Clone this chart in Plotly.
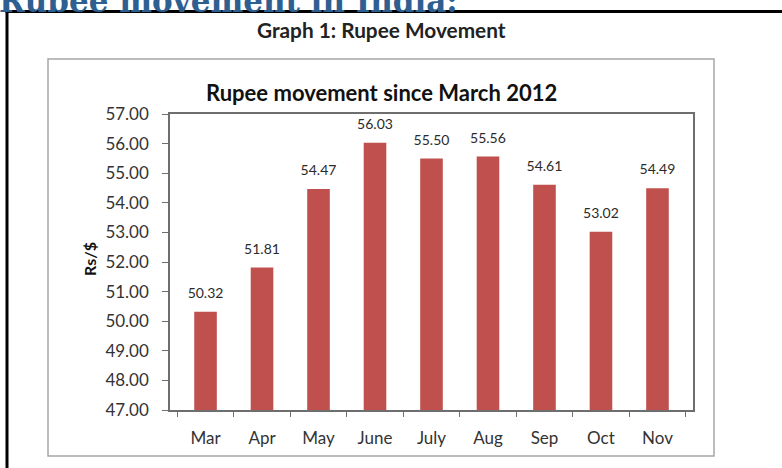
import plotly.graph_objects as go

months = ["Mar", "Apr", "May", "June", "July", "Aug", "Sep", "Oct", "Nov"]
rates = [50.32, 51.81, 54.47, 56.03, 55.50, 55.56, 54.61, 53.02, 54.49]
y_ticks = [47, 48, 49, 50, 51, 52, 53, 54, 55, 56, 57]

W, H = 782, 468
L, R, T, B = 170, 693, 114, 410
FONT = "Lato, Open Sans, sans-serif"

def px(x):
    return (x - L) / (R - L)

def py(y):
    return (B - y) / (B - T)

fig = go.Figure()
fig.add_trace(go.Bar(
    x=months, y=rates,
    marker=dict(color="#C0504D", line=dict(width=0)),
    hoverinfo="x+y",
))
fig.add_trace(go.Scatter(
    x=months, y=rates, mode="markers+text",
    marker=dict(size=15, opacity=0),
    text=[f"{v:.2f}" for v in rates],
    textposition="top center",
    textfont=dict(family=FONT, size=14, color="#2B2B2B"),
    cliponaxis=False, hoverinfo="skip",
))

fig.update_layout(
    width=W, height=H,
    margin=dict(l=L, r=W - R, t=T, b=H - B),
    paper_bgcolor="white", plot_bgcolor="white",
    bargap=0.6,
    showlegend=False,
    font=dict(family=FONT, color="#222222"),
    shapes=[
        dict(type="rect", xref="paper", yref="paper",
             x0=px(48), x1=px(714), y0=py(456), y1=py(59),
             line=dict(color="#A6A6A6", width=1.5), layer="below"),
        dict(type="line", xref="paper", yref="paper",
             x0=px(7), x1=px(7), y0=py(11), y1=py(470),
             line=dict(color="black", width=3)),
        dict(type="line", xref="paper", yref="paper",
             x0=px(5.5), x1=px(785), y0=py(11.5), y1=py(11.5),
             line=dict(color="black", width=3)),
    ],
    annotations=[
        dict(text="<b>Rubee movement in India:</b>", xref="paper", yref="paper",
             x=px(-3), y=py(21), xanchor="left", yanchor="bottom", showarrow=False,
             font=dict(family="DejaVu Serif, serif", size=31, color="#2E5F91")),
        dict(text="<b>Graph 1: Rupee Movement</b>", xref="paper", yref="paper",
             x=px(381), y=py(29), xanchor="center", yanchor="middle", showarrow=False,
             font=dict(family=FONT, size=20.8, color="#222222")),
        dict(text="<b>Rupee movement since March 2012</b>", xref="paper", yref="paper",
             x=px(381), y=py(92), xanchor="center", yanchor="middle", showarrow=False,
             font=dict(family=FONT, size=22, color="#111111")),
        dict(text="<b>Rs/$</b>", xref="paper", yref="paper",
             x=px(89), y=py(259), xanchor="center", yanchor="middle", showarrow=False,
             textangle=-90,
             font=dict(family=FONT, size=16, color="#111111")),
    ],
)

fig.update_yaxes(
    range=[47, 57], tickvals=y_ticks, ticktext=[f"{v:.2f}" for v in y_ticks],
    showgrid=False, zeroline=False,
    showline=True, linecolor="#6E6E6E", linewidth=1.5, mirror=True,
    ticks="outside", ticklen=6, tickcolor="#6E6E6E",
    ticklabelstandoff=10,
    tickfont=dict(size=17, color="#333333"),
)
fig.update_xaxes(
    showgrid=False, zeroline=False,
    showline=True, linecolor="#6E6E6E", linewidth=1.5, mirror=True,
    ticks="outside", ticklen=5, tickcolor="#6E6E6E", tickson="boundaries",
    ticklabelstandoff=12,
    tickfont=dict(size=17, color="#333333"),
)

fig.write_html("out.html", config={"displayModeBar": False},
               post_script="document.body.style.margin='0';")
